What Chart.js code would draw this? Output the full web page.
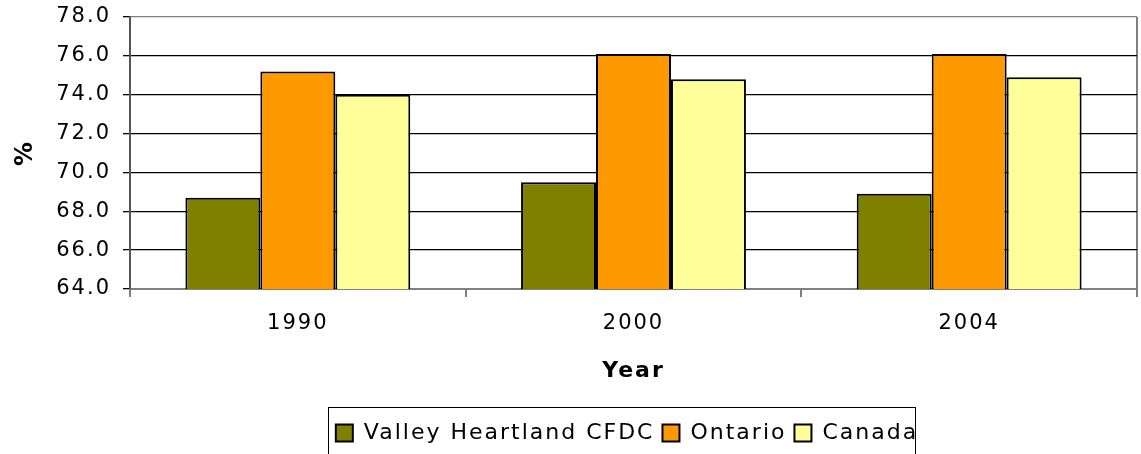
<!DOCTYPE html>
<html>
<head>
<meta charset="utf-8">
<script src="https://cdn.jsdelivr.net/npm/chart.js@4"></script>
<style>
  html, body { margin: 0; padding: 0; background: #fff; }
  #wrap { width: 1141px; height: 454px; }
</style>
</head>
<body>
<div id="wrap"><canvas id="rateChart"></canvas></div>
<script>
// values (%)
var years = ['1990', '2000', '2004'];
var valleyHeartland = [68.7, 69.5, 68.9];
var ontario = [75.2, 76.1, 76.1];
var canada = [74.0, 74.8, 74.9];
var seriesNames = ['Valley Heartland CFDC', 'Ontario', 'Canada'];
var yMin = 64, yMax = 78, yStep = 2;

var FONT = '"DejaVu Sans", Verdana, sans-serif';
var LEGEND_CENTER = 627;

// wider letter spacing, the reference text is stretched
var spacingPlugin = {
  id: 'spacing',
  beforeUpdate: function(chart) { chart.ctx.letterSpacing = '2px'; },
  beforeLayout: function(chart) { chart.ctx.letterSpacing = '2px'; },
  beforeDraw: function(chart) { chart.ctx.letterSpacing = '2px'; }
};

// move the legend under the plot centre and put a box round it
var legendBox = {
  id: 'legendBox',
  afterLayout: function(chart) {
    var lg = chart.legend;
    if (!lg) return;
    var d = LEGEND_CENTER - (lg.left + lg.right) / 2;
    lg.left += d;
    lg.right += d;
  },
  afterDraw: function(chart) {
    var lg = chart.legend;
    if (!lg || !lg.lineWidths) return;
    var rowW = lg.lineWidths[0];
    var left = LEGEND_CENTER - rowW / 2 - 4;
    var ctx = chart.ctx;
    ctx.save();
    ctx.strokeStyle = '#000';
    ctx.lineWidth = 1;
    ctx.strokeRect(Math.round(left) + 0.5, Math.round(lg.top) - 6.5, Math.round(rowW - 3), 80);
    ctx.restore();
  }
};

var ctx = document.getElementById('rateChart').getContext('2d');
var rateChart = new Chart(ctx, {
  type: 'bar',
  data: {
    labels: years,
    datasets: [
      { label: seriesNames[0], data: valleyHeartland, backgroundColor: '#808000' },
      { label: seriesNames[1], data: ontario, backgroundColor: '#FF9900' },
      { label: seriesNames[2], data: canada, backgroundColor: '#FFFF99' }
    ]
  },
  options: {
    responsive: true,
    maintainAspectRatio: false,
    animation: false,
    datasets: {
      bar: {
        borderColor: '#000',
        borderWidth: 2,
        borderSkipped: false,
        categoryPercentage: 0.67,
        barPercentage: 1.0
      }
    },
    layout: { padding: { top: 17, right: 4, left: 0, bottom: 0 } },
    plugins: {
      legend: {
        position: 'bottom',
        labels: {
          color: '#000',
          font: { family: FONT, size: 22 },
          boxWidth: 17,
          boxHeight: 17,
          padding: 8
        }
      },
      tooltip: { enabled: false }
    },
    scales: {
      x: {
        offset: true,
        afterFit: function(scale) { scale.height = 125; },
        grid: {
          offset: true,
          drawOnChartArea: true,
          color: function(c) { return c.type === 'scale' ? '#808080' : 'rgba(0,0,0,0)'; },
          tickColor: '#808080',
          tickLength: 8,
          lineWidth: 2
        },
        border: { color: '#808080', width: 2 },
        ticks: { color: '#000', font: { family: FONT, size: 21 }, padding: 14 },
        title: {
          display: true,
          text: 'Year',
          color: '#000',
          font: { family: FONT, size: 22, weight: 'bold' },
          padding: { top: 10, bottom: 30 }
        }
      },
      y: {
        min: yMin,
        max: yMax,
        afterFit: function(scale) {
          scale.width = 130;
          scale.paddingTop = 0;
          scale.paddingBottom = 0;
        },
        grid: {
          color: function(c) { return c.tick && c.tick.value === yMax ? '#808080' : '#000'; },
          tickColor: '#000',
          tickLength: 7,
          lineWidth: 1.3
        },
        border: { color: '#555', width: 2 },
        ticks: {
          stepSize: yStep,
          color: '#000',
          font: { family: FONT, size: 21 },
          padding: 12,
          callback: function(v) { return v.toFixed(1); }
        },
        title: {
          display: true,
          text: '%',
          color: '#000',
          font: { family: FONT, size: 24, weight: 'bold' },
          padding: { top: 11, bottom: 8 }
        }
      }
    }
  },
  plugins: [spacingPlugin, legendBox]
});
</script>
</body>
</html>
